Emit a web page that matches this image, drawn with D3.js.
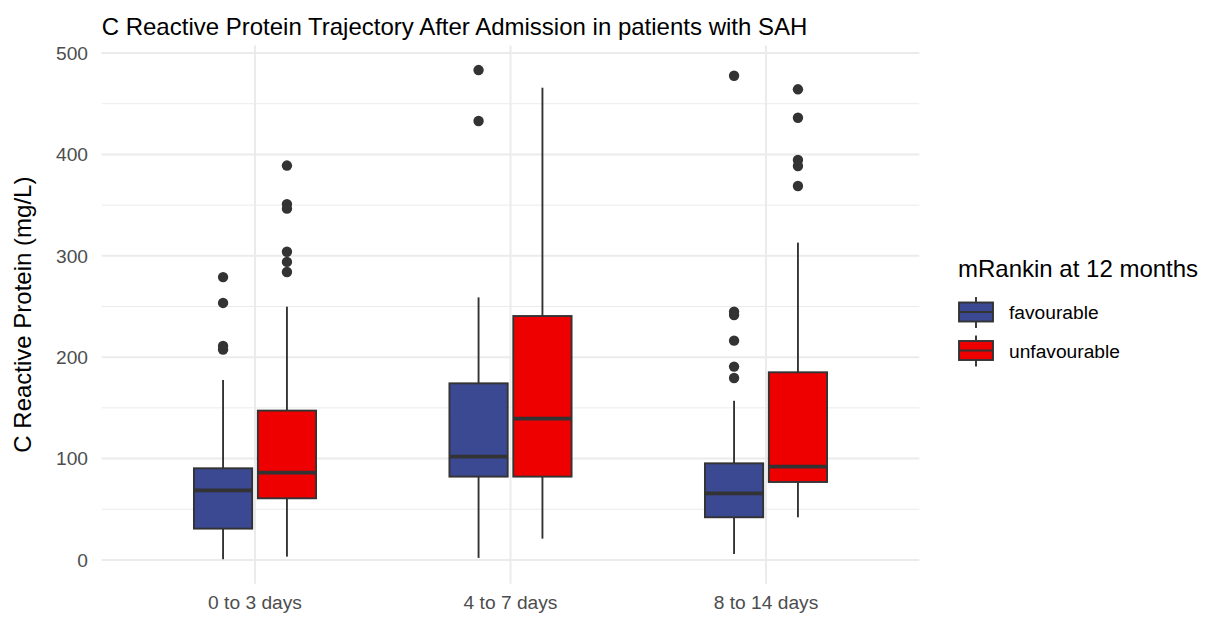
<!DOCTYPE html>
<html>
<head>
<meta charset="utf-8">
<script src="https://cdn.jsdelivr.net/npm/d3@7"></script>
<style>
  body { margin: 0; background: #fff; }
  text { font-family: "Liberation Sans", Arial, sans-serif; }
</style>
</head>
<body>
<script>
// data
const categories = ["0 to 3 days", "4 to 7 days", "8 to 14 days"];
const groups = ["favourable", "unfavourable"];
const groupColors = ["#3B4992", "#EE0000"];

// one entry per category, [favourable, unfavourable]
const whiskerLow = [[0.7, 3.3], [2, 21], [5.9, 42.1]];
const lowerQuartile = [[30.9, 60.8], [82.2, 82.2], [42.1, 76.9]];
const medians = [[68.7, 86.1], [101.9, 139.4], [65.7, 92]];
const upperQuartile = [[90.4, 147.3], [174.2, 240.6], [95.3, 185.1]];
const whiskerHigh = [[177.5, 249.8], [259, 465.8], [157, 313]];
const outliers = [
  [[279, 253.5, 211, 207.5], [389, 351, 346.5, 304, 294, 284]],
  [[483.2, 433], []],
  [[477.6, 244.9, 241.6, 216.3, 190.7, 179.5], [464.2, 436.2, 394.5, 388.6, 368.8]]
];
const yTicks = [0, 100, 200, 300, 400, 500];
const yMinorTicks = [50, 150, 250, 350, 450];

const width = 1214;
const height = 617;
const panel = { left: 101.7, right: 919.3, top: 45.6, bottom: 583.7 };

const svg = d3.select("body").append("svg")
  .attr("width", width)
  .attr("height", height);

// build boxes
const boxes = [];
categories.forEach((c, i) => {
  groups.forEach((g, j) => {
    boxes.push({
      cat: c, group: g, gi: j,
      low: whiskerLow[i][j], q1: lowerQuartile[i][j], med: medians[i][j],
      q3: upperQuartile[i][j], high: whiskerHigh[i][j], out: outliers[i][j]
    });
  });
});

// y range with ggplot's 5% expansion
const allVals = boxes.flatMap(b => [b.low, b.high, ...b.out]);
const yMin = d3.min(allVals), yMax = d3.max(allVals);
const pad = (yMax - yMin) * 0.05;
const y = d3.scaleLinear()
  .domain([yMin - pad, yMax + pad])
  .range([panel.bottom, panel.top]);

const x = d3.scalePoint()
  .domain(categories)
  .range([panel.left, panel.right])
  .padding(0.6);
const step = x.step();
const boxW = step * 0.228;
const dodge = step * 0.125;
const xc = b => x(b.cat) + (b.gi === 0 ? -dodge : dodge);

// grid
const grid = svg.append("g");
grid.selectAll(".minor").data(yMinorTicks).enter().append("line")
  .attr("x1", panel.left).attr("x2", panel.right)
  .attr("y1", d => y(d)).attr("y2", d => y(d))
  .attr("stroke", "#EBEBEB").attr("stroke-width", 1);
grid.selectAll(".major").data(yTicks).enter().append("line")
  .attr("x1", panel.left).attr("x2", panel.right)
  .attr("y1", d => y(d)).attr("y2", d => y(d))
  .attr("stroke", "#EBEBEB").attr("stroke-width", 2);
grid.selectAll(".vmajor").data(categories).enter().append("line")
  .attr("x1", d => x(d)).attr("x2", d => x(d))
  .attr("y1", panel.top).attr("y2", panel.bottom)
  .attr("stroke", "#EBEBEB").attr("stroke-width", 2);

// boxplots
const bg = svg.append("g").selectAll("g").data(boxes).enter().append("g");
bg.append("line")
  .attr("x1", xc).attr("x2", xc)
  .attr("y1", d => y(d.high)).attr("y2", d => y(d.q3))
  .attr("stroke", "#333333").attr("stroke-width", 1.9);
bg.append("line")
  .attr("x1", xc).attr("x2", xc)
  .attr("y1", d => y(d.q1)).attr("y2", d => y(d.low))
  .attr("stroke", "#333333").attr("stroke-width", 1.9);
bg.append("rect")
  .attr("x", d => xc(d) - boxW / 2)
  .attr("width", boxW)
  .attr("y", d => y(d.q3))
  .attr("height", d => y(d.q1) - y(d.q3))
  .attr("fill", d => groupColors[d.gi])
  .attr("stroke", "#333333").attr("stroke-width", 1.9);
bg.append("line")
  .attr("x1", d => xc(d) - boxW / 2).attr("x2", d => xc(d) + boxW / 2)
  .attr("y1", d => y(d.med)).attr("y2", d => y(d.med))
  .attr("stroke", "#333333").attr("stroke-width", 3.8);
bg.selectAll("circle").data(d => d.out.map(v => ({ v, b: d }))).enter().append("circle")
  .attr("cx", d => xc(d.b))
  .attr("cy", d => y(d.v))
  .attr("r", 5.2)
  .attr("fill", "#333333");

// axes labels
svg.append("g").selectAll("text").data(yTicks).enter().append("text")
  .attr("x", 88).attr("y", d => y(d)).attr("dy", "0.35em")
  .attr("text-anchor", "end")
  .attr("font-size", 19.2).attr("fill", "#4D4D4D")
  .text(d => d);
svg.append("g").selectAll("text").data(categories).enter().append("text")
  .attr("x", d => x(d)).attr("y", 609)
  .attr("text-anchor", "middle")
  .attr("font-size", 19.2).attr("fill", "#4D4D4D")
  .text(d => d);

svg.append("text")
  .attr("transform", `translate(31, ${(panel.top + panel.bottom) / 2}) rotate(-90)`)
  .attr("text-anchor", "middle")
  .attr("font-size", 24).attr("fill", "#000")
  .text("C Reactive Protein (mg/L)");

svg.append("text")
  .attr("x", panel.left).attr("y", 35)
  .attr("font-size", 24).attr("fill", "#000")
  .text("C Reactive Protein Trajectory After Admission in patients with SAH");

// legend
const legend = svg.append("g").attr("transform", "translate(958, 0)");
legend.append("text")
  .attr("x", 0).attr("y", 277)
  .attr("font-size", 24).attr("fill", "#000")
  .text("mRankin at 12 months");
const keys = legend.selectAll(".key").data(groups).enter().append("g")
  .attr("transform", (d, i) => `translate(18, ${312 + i * 38.5})`);
keys.append("line")
  .attr("x1", 0).attr("x2", 0).attr("y1", -15).attr("y2", 16)
  .attr("stroke", "#333333").attr("stroke-width", 1.9);
keys.append("rect")
  .attr("x", -17).attr("y", -9.5).attr("width", 34).attr("height", 19)
  .attr("fill", (d, i) => groupColors[i])
  .attr("stroke", "#333333").attr("stroke-width", 1.9);
keys.append("line")
  .attr("x1", -17).attr("x2", 17).attr("y1", 0).attr("y2", 0)
  .attr("stroke", "#333333").attr("stroke-width", 1.9);
keys.append("text")
  .attr("x", 33).attr("y", 7)
  .attr("font-size", 19.2).attr("fill", "#000")
  .text(d => d);
</script>
</body>
</html>
